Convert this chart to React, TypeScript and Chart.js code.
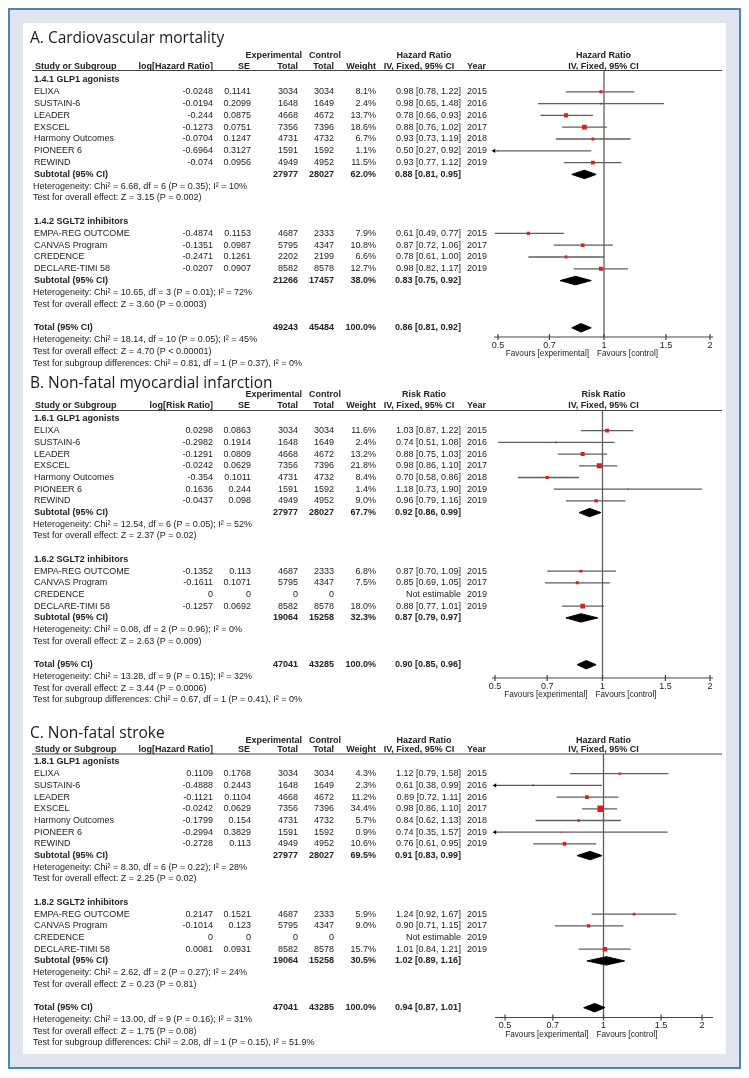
import React, { useEffect, useRef } from "react";
import { Chart, registerables } from "chart.js";

Chart.register(...registerables);

// ---------------- shared study information ----------------
const glp1Studies = ["ELIXA", "SUSTAIN-6", "LEADER", "EXSCEL", "Harmony Outcomes", "PIONEER 6", "REWIND"];
const glp1Years = ["2015", "2016", "2016", "2017", "2018", "2019", "2019"];
const glp1ExpTotal = [3034, 1648, 4668, 7356, 4731, 1591, 4949];
const glp1CtrlTotal = [3034, 1649, 4672, 7396, 4732, 1592, 4952];
const sglt2Studies = ["EMPA-REG OUTCOME", "CANVAS Program", "CREDENCE", "DECLARE-TIMI 58"];
const sglt2Years = ["2015", "2017", "2019", "2019"];
const sglt2ExpTotalCV = [4687, 5795, 2202, 8582];
const sglt2CtrlTotalCV = [2333, 4347, 2199, 8578];
const sglt2ExpTotal = [4687, 5795, 0, 8582];
const sglt2CtrlTotal = [2333, 4347, 0, 8578];
const pooledLabels = ["Subtotal (95% CI)", "Subtotal (95% CI)", "Total (95% CI)"];
const xTicks = [0.5, 0.7, 1, 1.5, 2];

// ---------------- A. Cardiovascular mortality ----------------
const cvGlp1Log = [-0.0248, -0.0194, -0.244, -0.1273, -0.0704, -0.6964, -0.074];
const cvGlp1SE = [0.1141, 0.2099, 0.0875, 0.0751, 0.1247, 0.3127, 0.0956];
const cvGlp1W = [8.1, 2.4, 13.7, 18.6, 6.7, 1.1, 11.5];
const cvGlp1Est = [0.98, 0.98, 0.78, 0.88, 0.93, 0.5, 0.93];
const cvGlp1Lo = [0.78, 0.65, 0.66, 0.76, 0.73, 0.27, 0.77];
const cvGlp1Hi = [1.22, 1.48, 0.93, 1.02, 1.19, 0.92, 1.12];
const cvSglt2Log = [-0.4874, -0.1351, -0.2471, -0.0207];
const cvSglt2SE = [0.1153, 0.0987, 0.1261, 0.0907];
const cvSglt2W = [7.9, 10.8, 6.6, 12.7];
const cvSglt2Est = [0.61, 0.87, 0.78, 0.98];
const cvSglt2Lo = [0.49, 0.72, 0.61, 0.82];
const cvSglt2Hi = [0.77, 1.06, 1.0, 1.17];
const cvPooledEst = [0.88, 0.83, 0.86];
const cvPooledLo = [0.81, 0.75, 0.81];
const cvPooledHi = [0.95, 0.92, 0.92];
const cvPooledW = [62.0, 38.0, 100.0];
const cvPooledExp = [27977, 21266, 49243];
const cvPooledCtrl = [28027, 17457, 45484];
const cvStats = [
  "Heterogeneity: Chi² = 6.68, df = 6 (P = 0.35); I² = 10%",
  "Test for overall effect: Z = 3.15 (P = 0.002)",
  "Heterogeneity: Chi² = 10.65, df = 3 (P = 0.01); I² = 72%",
  "Test for overall effect: Z = 3.60 (P = 0.0003)",
  "Heterogeneity: Chi² = 18.14, df = 10 (P = 0.05); I² = 45%",
  "Test for overall effect: Z = 4.70 (P < 0.00001)",
  "Test for subgroup differences: Chi² = 0.81, df = 1 (P = 0.37), I² = 0%",
];

// ---------------- B. Non-fatal myocardial infarction ----------------
const miGlp1Log = [0.0298, -0.2982, -0.1291, -0.0242, -0.354, 0.1636, -0.0437];
const miGlp1SE = [0.0863, 0.1914, 0.0809, 0.0629, 0.1011, 0.244, 0.098];
const miGlp1W = [11.6, 2.4, 13.2, 21.8, 8.4, 1.4, 9.0];
const miGlp1Est = [1.03, 0.74, 0.88, 0.98, 0.7, 1.18, 0.96];
const miGlp1Lo = [0.87, 0.51, 0.75, 0.86, 0.58, 0.73, 0.79];
const miGlp1Hi = [1.22, 1.08, 1.03, 1.1, 0.86, 1.9, 1.16];
const miSglt2Log = [-0.1352, -0.1611, 0, -0.1257];
const miSglt2SE = [0.113, 0.1071, 0, 0.0692];
const miSglt2W = [6.8, 7.5, null, 18.0];
const miSglt2Est = [0.87, 0.85, null, 0.88];
const miSglt2Lo = [0.7, 0.69, null, 0.77];
const miSglt2Hi = [1.09, 1.05, null, 1.01];
const miPooledEst = [0.92, 0.87, 0.9];
const miPooledLo = [0.86, 0.79, 0.85];
const miPooledHi = [0.99, 0.97, 0.96];
const miPooledW = [67.7, 32.3, 100.0];
const miPooledExp = [27977, 19064, 47041];
const miPooledCtrl = [28027, 15258, 43285];
const miStats = [
  "Heterogeneity: Chi² = 12.54, df = 6 (P = 0.05); I² = 52%",
  "Test for overall effect: Z = 2.37 (P = 0.02)",
  "Heterogeneity: Chi² = 0.08, df = 2 (P = 0.96); I² = 0%",
  "Test for overall effect: Z = 2.63 (P = 0.009)",
  "Heterogeneity: Chi² = 13.28, df = 9 (P = 0.15); I² = 32%",
  "Test for overall effect: Z = 3.44 (P = 0.0006)",
  "Test for subgroup differences: Chi² = 0.67, df = 1 (P = 0.41), I² = 0%",
];

// ---------------- C. Non-fatal stroke ----------------
const stGlp1Log = [0.1109, -0.4888, -0.1121, -0.0242, -0.1799, -0.2994, -0.2728];
const stGlp1SE = [0.1768, 0.2443, 0.1104, 0.0629, 0.154, 0.3829, 0.113];
const stGlp1W = [4.3, 2.3, 11.2, 34.4, 5.7, 0.9, 10.6];
const stGlp1Est = [1.12, 0.61, 0.89, 0.98, 0.84, 0.74, 0.76];
const stGlp1Lo = [0.79, 0.38, 0.72, 0.86, 0.62, 0.35, 0.61];
const stGlp1Hi = [1.58, 0.99, 1.11, 1.1, 1.13, 1.57, 0.95];
const stSglt2Log = [0.2147, -0.1014, 0, 0.0081];
const stSglt2SE = [0.1521, 0.123, 0, 0.0931];
const stSglt2W = [5.9, 9.0, null, 15.7];
const stSglt2Est = [1.24, 0.9, null, 1.01];
const stSglt2Lo = [0.92, 0.71, null, 0.84];
const stSglt2Hi = [1.67, 1.15, null, 1.21];
const stPooledEst = [0.91, 1.02, 0.94];
const stPooledLo = [0.83, 0.89, 0.87];
const stPooledHi = [0.99, 1.16, 1.01];
const stPooledW = [69.5, 30.5, 100.0];
const stPooledExp = [27977, 19064, 47041];
const stPooledCtrl = [28027, 15258, 43285];
const stStats = [
  "Heterogeneity: Chi² = 8.30, df = 6 (P = 0.22); I² = 28%",
  "Test for overall effect: Z = 2.25 (P = 0.02)",
  "Heterogeneity: Chi² = 2.62, df = 2 (P = 0.27); I² = 24%",
  "Test for overall effect: Z = 0.23 (P = 0.81)",
  "Heterogeneity: Chi² = 13.00, df = 9 (P = 0.16); I² = 31%",
  "Test for overall effect: Z = 1.75 (P = 0.08)",
  "Test for subgroup differences: Chi² = 2.08, df = 1 (P = 0.15), I² = 51.9%",
];

// ---------------- panel specs (built from the arrays above) ----------------
const SPECS = [
  {
    title: "A. Cardiovascular mortality", measure: "Hazard Ratio", logLabel: "log[Hazard Ratio]",
    groups: ["1.4.1 GLP1 agonists", "1.4.2 SGLT2 inhibitors"],
    g1: [cvGlp1Log, cvGlp1SE, glp1ExpTotal, glp1CtrlTotal, cvGlp1W, cvGlp1Est, cvGlp1Lo, cvGlp1Hi],
    g2: [cvSglt2Log, cvSglt2SE, sglt2ExpTotalCV, sglt2CtrlTotalCV, cvSglt2W, cvSglt2Est, cvSglt2Lo, cvSglt2Hi],
    pooled: [cvPooledExp, cvPooledCtrl, cvPooledW, cvPooledEst, cvPooledLo, cvPooledHi],
    stats: cvStats,
  },
  {
    title: "B. Non-fatal myocardial infarction", measure: "Risk Ratio", logLabel: "log[Risk Ratio]",
    groups: ["1.6.1 GLP1 agonists", "1.6.2 SGLT2 inhibitors"],
    g1: [miGlp1Log, miGlp1SE, glp1ExpTotal, glp1CtrlTotal, miGlp1W, miGlp1Est, miGlp1Lo, miGlp1Hi],
    g2: [miSglt2Log, miSglt2SE, sglt2ExpTotal, sglt2CtrlTotal, miSglt2W, miSglt2Est, miSglt2Lo, miSglt2Hi],
    pooled: [miPooledExp, miPooledCtrl, miPooledW, miPooledEst, miPooledLo, miPooledHi],
    stats: miStats,
  },
  {
    title: "C. Non-fatal stroke", measure: "Hazard Ratio", logLabel: "log[Hazard Ratio]",
    groups: ["1.8.1 GLP1 agonists", "1.8.2 SGLT2 inhibitors"],
    g1: [stGlp1Log, stGlp1SE, glp1ExpTotal, glp1CtrlTotal, stGlp1W, stGlp1Est, stGlp1Lo, stGlp1Hi],
    g2: [stSglt2Log, stSglt2SE, sglt2ExpTotal, sglt2CtrlTotal, stSglt2W, stSglt2Est, stSglt2Lo, stSglt2Hi],
    pooled: [stPooledExp, stPooledCtrl, stPooledW, stPooledEst, stPooledLo, stPooledHi],
    stats: stStats,
  },
];

// ---------------- layout (page pixel coordinates) ----------------
const ORIGIN_X = 23;
const ORIGIN_Y = 23;
const WHITE_W = 703;
const LAYOUTS = [
  { top: 23, height: 345, titleY: 43, expY: 56, hdrY: 67, lineY: 70.5, row0: 80, pitch: 11.8, axisY: 337, t05: 498, t2: 710, axisL: 494, axisR: 713 },
  { top: 368, height: 342, titleY: 388, expY: 394.5, hdrY: 406, lineY: 410.5, row0: 419, pitch: 11.7, axisY: 678, t05: 495, t2: 710, axisL: 492, axisR: 713 },
  { top: 710, height: 344, titleY: 738, expY: 740.5, hdrY: 750, lineY: 754, row0: 762, pitch: 11.7, axisY: 1017.5, t05: 505, t2: 702, axisL: 495, axisR: 713 },
];
const COL = { name: 34, hdrName: 35, logR: 213, seR: 251, expR: 298, ctrlR: 334, wR: 376, ciR: 461, ciC: 419, year: 467, forestC: 603.5, lineL: 32, lineR: 722, expLabelR: 302, ctrlLabelL: 309, titleX: 30 };
const FONT_FAMILY = '"Liberation Sans", Arial, sans-serif';
const TABLE_FONT = `9px ${FONT_FAMILY}`;
const TABLE_BOLD = `bold 9px ${FONT_FAMILY}`;
const FAVOURS_FONT = `8.2px ${FONT_FAMILY}`;
const TITLE_FONT = `15.5px "Open Sans", ${FONT_FAMILY}`;
const TEXT_COLOR = "#222222";
const LINE_COLOR = "#5e5e5e";
const SQUARE_COLOR = "#d42020";
const DIAMOND_HALF = 0.36;

function buildRows(spec: any) {
  const rows: any[] = [];
  const addGroup = (label: string, names: string[], years: string[], g: any[]) => {
    rows.push({ kind: "group", text: label });
    names.forEach((name, i) => {
      rows.push({
        kind: "study", name, year: years[i],
        log: g[0][i], se: g[1][i], exp: g[2][i], ctrl: g[3][i],
        w: g[4][i], est: g[5][i], lo: g[6][i], hi: g[7][i],
      });
    });
  };
  const addPooled = (k: number) => {
    const p = spec.pooled;
    rows.push({ kind: "pooled", text: pooledLabels[k], exp: p[0][k], ctrl: p[1][k], w: p[2][k], est: p[3][k], lo: p[4][k], hi: p[5][k] });
  };
  addGroup(spec.groups[0], glp1Studies, glp1Years, spec.g1);
  addPooled(0);
  rows.push({ kind: "note", text: spec.stats[0] });
  rows.push({ kind: "note", text: spec.stats[1] });
  rows.push({ kind: "blank" });
  addGroup(spec.groups[1], sglt2Studies, sglt2Years, spec.g2);
  addPooled(1);
  rows.push({ kind: "note", text: spec.stats[2] });
  rows.push({ kind: "note", text: spec.stats[3] });
  rows.push({ kind: "blank" });
  addPooled(2);
  rows.push({ kind: "note", text: spec.stats[4] });
  rows.push({ kind: "note", text: spec.stats[5] });
  rows.push({ kind: "note", text: spec.stats[6] });
  return rows;
}

const fmtCI = (e: number, l: number, h: number) => `${e.toFixed(2)} [${l.toFixed(2)}, ${h.toFixed(2)}]`;

function makeTablePlugin(spec: any, L: any, rows: any[]) {
  return {
    id: "forestTable",
    afterDraw(chart: any) {
      const ctx = chart.ctx;
      const xs = chart.scales.x;
      const ys = chart.scales.y;
      const X = (p: number) => p - ORIGIN_X;
      const Y = (p: number) => p - L.top;
      ctx.save();
      ctx.fillStyle = TEXT_COLOR;
      const put = (s: string, x: number, y: number, align: string, font: string) => {
        ctx.font = font;
        ctx.textAlign = align;
        ctx.textBaseline = "middle";
        ctx.fillText(s, x, y);
      };
      // title
      ctx.font = TITLE_FONT;
      ctx.fillStyle = "#1a1a1a";
      ctx.textAlign = "left";
      ctx.textBaseline = "alphabetic";
      ctx.fillText(spec.title, X(COL.titleX), Y(L.titleY));
      ctx.fillStyle = TEXT_COLOR;

      // header lines
      const ey = Y(L.expY);
      put("Experimental", X(COL.expLabelR), ey, "right", TABLE_BOLD);
      put("Control", X(COL.ctrlLabelL), ey, "left", TABLE_BOLD);
      put(spec.measure, X(COL.ciC + 5), ey, "center", TABLE_BOLD);
      put(spec.measure, X(COL.forestC), ey, "center", TABLE_BOLD);
      const hy = Y(L.hdrY);
      put("Study or Subgroup", X(COL.hdrName), hy, "left", TABLE_BOLD);
      put(spec.logLabel, X(COL.logR), hy, "right", TABLE_BOLD);
      put("SE", X(COL.seR - 1), hy, "right", TABLE_BOLD);
      put("Total", X(COL.expR), hy, "right", TABLE_BOLD);
      put("Total", X(COL.ctrlR), hy, "right", TABLE_BOLD);
      put("Weight", X(COL.wR), hy, "right", TABLE_BOLD);
      put("IV, Fixed, 95% CI", X(COL.ciC), hy, "center", TABLE_BOLD);
      put("Year", X(COL.year), hy, "left", TABLE_BOLD);
      put("IV, Fixed, 95% CI", X(COL.forestC), hy, "center", TABLE_BOLD);
      ctx.strokeStyle = "#444444";
      ctx.lineWidth = 1.2;
      ctx.beginPath();
      ctx.moveTo(X(COL.lineL), Y(L.lineY));
      ctx.lineTo(X(COL.lineR), Y(L.lineY));
      ctx.stroke();

      // rows
      rows.forEach((r, i) => {
        const y = ys.getPixelForValue(i);
        if (r.kind === "group") {
          put(r.text, X(COL.name), y, "left", TABLE_BOLD);
        } else if (r.kind === "study") {
          put(r.name, X(COL.name), y, "left", TABLE_FONT);
          put(String(r.log), X(COL.logR), y, "right", TABLE_FONT);
          put(String(r.se), X(COL.seR), y, "right", TABLE_FONT);
          put(String(r.exp), X(COL.expR), y, "right", TABLE_FONT);
          put(String(r.ctrl), X(COL.ctrlR), y, "right", TABLE_FONT);
          if (r.w != null) put(`${r.w.toFixed(1)}%`, X(COL.wR), y, "right", TABLE_FONT);
          put(r.est != null ? fmtCI(r.est, r.lo, r.hi) : "Not estimable", X(COL.ciR), y, "right", TABLE_FONT);
          put(r.year, X(COL.year), y, "left", TABLE_FONT);
        } else if (r.kind === "pooled") {
          put(r.text, X(COL.name), y, "left", TABLE_BOLD);
          put(String(r.exp), X(COL.expR), y, "right", TABLE_BOLD);
          put(String(r.ctrl), X(COL.ctrlR), y, "right", TABLE_BOLD);
          put(`${r.w.toFixed(1)}%`, X(COL.wR), y, "right", TABLE_BOLD);
          put(fmtCI(r.est, r.lo, r.hi), X(COL.ciR), y, "right", TABLE_BOLD);
        } else if (r.kind === "note") {
          put(r.text, X(COL.name - 1), y, "left", TABLE_FONT);
        }
      });

      // x axis
      const ca = chart.chartArea;
      const ay = ca.bottom;
      ctx.strokeStyle = "#444444";
      ctx.lineWidth = 1.2;
      ctx.beginPath();
      ctx.moveTo(ca.left, ay);
      ctx.lineTo(ca.right, ay);
      xTicks.forEach((t) => {
        const px = xs.getPixelForValue(t);
        ctx.moveTo(px, ay - 3);
        ctx.lineTo(px, ay + 3);
      });
      ctx.stroke();
      xTicks.forEach((t) => {
        put(String(t), xs.getPixelForValue(t), ay + 8.5, "center", TABLE_FONT);
      });
      const one = xs.getPixelForValue(1);
      put("Favours [experimental]", one - 15, ay + 17, "right", FAVOURS_FONT);
      put("Favours [control]", one - 7, ay + 17, "left", FAVOURS_FONT);
      ctx.restore();
    },
  };
}

function ForestPanel({ spec, L }: any) {
  const ref = useRef<HTMLCanvasElement | null>(null);
  useEffect(() => {
    const rows = buildRows(spec);
    const k = (L.t2 - L.t05) / Math.log(4);
    const xMin = 0.5 * Math.exp(-(L.t05 - L.axisL) / k);
    const xMax = 2 * Math.exp((L.axisR - L.t2) / k);
    const yMin = (L.lineY - L.row0) / L.pitch;
    const yMax = (L.axisY - L.row0) / L.pitch;
    const indexed = rows.map((r, i) => ({ ...r, i }));
    const studies = indexed.filter((r) => r.kind === "study" && r.est != null);
    const pooled = indexed.filter((r) => r.kind === "pooled");
    const datasets: any[] = [];
    datasets.push({
      type: "line", data: [{ x: 1, y: yMin }, { x: 1, y: yMax }],
      borderColor: LINE_COLOR, borderWidth: 1.3, pointRadius: 0, order: 6,
    });
    studies.forEach((r) => {
      datasets.push({
        type: "line", data: [{ x: r.lo, y: r.i }, { x: r.hi, y: r.i }],
        borderColor: LINE_COLOR, borderWidth: 1.3, pointRadius: 0, order: 4,
      });
    });
    datasets.push({
      type: "scatter", data: studies.map((r) => ({ x: r.est, y: r.i })),
      pointStyle: "rect", pointRadius: studies.map((r) => (1.1 * Math.sqrt(r.w)) / Math.SQRT2),
      pointBackgroundColor: SQUARE_COLOR, backgroundColor: SQUARE_COLOR, pointBorderWidth: 0, borderWidth: 0, order: 2,
    });
    pooled.forEach((r) => {
      datasets.push({
        type: "line",
        data: [
          { x: r.lo, y: r.i }, { x: r.est, y: r.i - DIAMOND_HALF }, { x: r.hi, y: r.i },
          { x: r.est, y: r.i + DIAMOND_HALF }, { x: r.lo, y: r.i },
        ],
        fill: "shape", backgroundColor: "#000", borderColor: "#000", borderWidth: 1, pointRadius: 0, order: 1,
      });
    });
    const arrows = studies.filter((r) => r.lo < xMin);
    if (arrows.length) {
      datasets.push({
        type: "scatter", data: arrows.map((r) => ({ x: xMin, y: r.i })),
        pointStyle: "triangle", pointRotation: -90, pointRadius: 2.4,
        pointBackgroundColor: "#000", backgroundColor: "#000", pointBorderWidth: 0, borderWidth: 0, clip: false, order: 0,
      });
    }
    const chart = new Chart(ref.current as HTMLCanvasElement, {
      type: "scatter",
      data: { datasets },
      options: {
        animation: false,
        responsive: false,
        maintainAspectRatio: false,
        devicePixelRatio: 1,
        events: [],
        layout: {
          padding: {
            left: L.axisL - ORIGIN_X,
            right: ORIGIN_X + WHITE_W - L.axisR,
            top: L.lineY - L.top,
            bottom: L.top + L.height - L.axisY,
          },
        },
        scales: {
          x: { type: "logarithmic", min: xMin, max: xMax, bounds: "data", display: false, offset: false },
          y: { type: "linear", reverse: true, min: yMin, max: yMax, bounds: "data", display: false, offset: false },
        },
        plugins: { legend: { display: false }, tooltip: { enabled: false } },
      },
      plugins: [makeTablePlugin(spec, L, rows)],
    } as any);
    return () => chart.destroy();
  }, []);
  return (
    <canvas
      ref={ref}
      width={WHITE_W}
      height={L.height}
      style={{ position: "absolute", left: 0, top: L.top - ORIGIN_Y, width: WHITE_W, height: L.height }}
    />
  );
}

export default function App() {
  return (
    <div
      style={{
        position: "relative", width: 733, height: 1061, boxSizing: "border-box",
        border: "2px solid #4f81bd", background: "#dfe4ef",
      }}
    >
      <div style={{ position: "absolute", left: 13, top: 13, width: WHITE_W, height: 1031, background: "#fff" }}>
        {SPECS.map((s, i) => (
          <ForestPanel key={i} spec={s} L={LAYOUTS[i]} />
        ))}
      </div>
    </div>
  );
}
